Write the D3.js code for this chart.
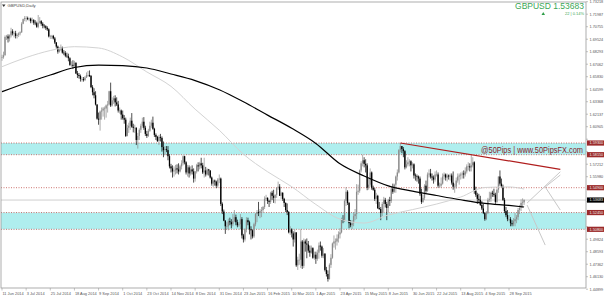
<!DOCTYPE html>
<html>
<head>
<meta charset="utf-8">
<script src="https://cdn.jsdelivr.net/npm/d3@7/dist/d3.min.js"></script>
<style>
  html, body { margin: 0; padding: 0; background: #fff; }
  svg { display: block; font-family: "Liberation Sans", Arial, sans-serif; }
</style>
</head>
<body>
<div id="chart"></div>
<script>
// GBPUSD daily bars, 11 Jun 2014 - 12 Oct 2015 (one row per month)
var firstOpen = 1.6770

var highs = [
  1.6800,1.6830,1.6990,1.6995,1.7000,1.7000,1.7065,1.7050,1.7030,1.7035,1.7010,1.7020,1.7030,1.7120,
  1.7155,1.7180,1.7180,1.7175,1.7165,1.7165,1.7165,1.7150,1.7140,1.7125,1.7191,1.7170,1.7140,1.7120,1.7100,1.7090,1.7080,1.7060,1.6995,1.6995,1.6995,1.6975,1.6925,
  1.6890,1.6875,1.6900,1.6880,1.6845,1.6835,1.6820,1.6810,1.6775,1.6735,1.6745,1.6740,1.6725,1.6640,1.6620,1.6605,1.6580,1.6580,1.6590,1.6625,1.6640,
  1.6645,1.6600,1.6500,1.6470,1.6440,1.6310,1.6230,1.6250,1.6280,1.6285,1.6290,1.6310,1.6345,1.6445,1.6525,1.6380,1.6395,1.6400,1.6380,1.6345,1.6280,1.6260,
  1.6250,1.6205,1.6180,1.6110,1.6130,1.6180,1.6225,1.6120,1.6110,1.6085,1.6030,1.6075,1.6120,1.6180,1.6185,1.6100,1.6050,1.6070,1.6140,1.6160,1.6190,1.6080,1.6025,
  1.6000,1.6010,1.6020,1.5995,1.5945,1.5900,1.5900,1.5900,1.5820,1.5725,1.5710,1.5700,1.5715,1.5720,1.5730,1.5715,1.5760,1.5810,1.5805,1.5750,
  1.5715,1.5710,1.5700,1.5710,1.5680,1.5655,1.5725,1.5740,1.5745,1.5785,1.5735,1.5785,1.5695,1.5680,1.5675,1.5660,1.5600,1.5570,1.5570,1.5560,1.5585,1.5620,
  1.5590,1.5345,1.5275,1.5170,1.5150,1.5185,1.5195,1.5180,1.5230,1.5270,1.5225,1.5175,1.5150,1.5230,1.5200,1.5035,1.5090,1.5200,1.5195,1.5165,1.5110,
  1.5080,1.5145,1.5240,1.5270,1.5350,1.5280,1.5300,1.5310,1.5405,1.5420,1.5395,1.5370,1.5450,1.5460,1.5470,1.5425,1.5490,1.5550,1.5525,1.5450,
  1.5445,1.5390,1.5345,1.5335,1.5260,1.5110,1.5090,1.5060,1.5080,1.5050,1.4810,1.4840,1.5080,1.4975,1.4990,1.4980,1.4990,1.4965,1.4920,1.4920,1.4890,1.4860,
  1.4860,1.4880,1.4950,1.4960,1.4920,1.4895,1.4845,1.4710,1.4675,1.4745,1.4835,1.4950,1.5020,1.4990,1.5030,1.5060,1.5090,1.5195,1.5220,1.5375,1.5495,1.5465,
  1.5350,1.5170,1.5170,1.5250,1.5280,1.5525,1.5520,1.5670,1.5750,1.5815,1.5790,1.5770,1.5730,1.5580,1.5680,1.5650,1.5510,1.5490,1.5440,1.5420,1.5350,
  1.5300,1.5350,1.5400,1.5390,1.5350,1.5380,1.5400,1.5500,1.5530,1.5530,1.5610,1.5670,1.5870,1.5930,1.5900,1.5890,1.5860,1.5760,1.5790,1.5770,1.5760,1.5740,
  1.5730,1.5630,1.5620,1.5610,1.5600,1.5480,1.5420,1.5525,1.5560,1.5640,1.5670,1.5675,1.5630,1.5610,1.5650,1.5660,1.5640,1.5540,1.5590,1.5630,1.5640,1.5630,1.5630,
  1.5620,1.5630,1.5630,1.5650,1.5530,1.5590,1.5630,1.5630,1.5640,1.5650,1.5660,1.5690,1.5720,1.5740,1.5730,1.5820,1.5790,1.5750,1.5500,1.5440,1.5430,
  1.5410,1.5360,1.5330,1.5250,1.5260,1.5390,1.5450,1.5450,1.5460,1.5480,1.5440,1.5480,1.5600,1.5660,1.5580,1.5520,1.5390,1.5300,1.5270,1.5220,1.5200,1.5170,
  1.5190,1.5240,1.5220,1.5290,1.5320,1.5375,1.5385,1.5375
]

var lows = [
  1.6740,1.6760,1.6790,1.6945,1.6920,1.6930,1.6970,1.6990,1.6970,1.6960,1.6960,1.6975,1.6990,1.7015,
  1.7100,1.7130,1.7125,1.7140,1.7130,1.7110,1.7110,1.7095,1.7090,1.7065,1.7060,1.7105,1.7085,1.7060,1.7060,1.7045,1.7035,1.6970,1.6955,1.6955,1.6950,1.6905,1.6860,
  1.6810,1.6820,1.6835,1.6810,1.6795,1.6775,1.6770,1.6735,1.6690,1.6680,1.6660,1.6670,1.6610,1.6570,1.6565,1.6535,1.6535,1.6535,1.6540,1.6570,1.6580,
  1.6580,1.6470,1.6400,1.6370,1.6300,1.6160,1.6110,1.6052,1.6160,1.6190,1.6160,1.6180,1.6230,1.6300,1.6285,1.6290,1.6315,1.6290,1.6295,1.6230,1.6220,1.6160,
  1.6160,1.6120,1.5990,1.5995,1.6030,1.6060,1.6080,1.6035,1.6030,1.5910,1.5875,1.5960,1.6030,1.6080,1.6060,1.6000,1.5980,1.5990,1.6040,1.6080,1.6060,1.5990,1.5960,
  1.5940,1.5910,1.5945,1.5845,1.5790,1.5810,1.5840,1.5760,1.5680,1.5640,1.5590,1.5600,1.5620,1.5630,1.5620,1.5640,1.5670,1.5710,1.5720,1.5620,
  1.5600,1.5590,1.5610,1.5620,1.5540,1.5550,1.5630,1.5650,1.5670,1.5680,1.5625,1.5590,1.5600,1.5610,1.5610,1.5580,1.5510,1.5500,1.5510,1.5485,1.5490,1.5535,
  1.5310,1.5230,1.5160,1.5035,1.5080,1.5070,1.5120,1.5090,1.5110,1.5150,1.5120,1.5100,1.5105,1.5080,1.4990,1.4950,1.4960,1.5050,1.5120,1.5030,1.4980,
  1.4990,1.4995,1.5110,1.5150,1.5210,1.5190,1.5200,1.5240,1.5280,1.5360,1.5330,1.5300,1.5330,1.5370,1.5340,1.5335,1.5390,1.5470,1.5410,1.5380,
  1.5360,1.5300,1.5250,1.5220,1.5040,1.5025,1.5000,1.4910,1.4950,1.4710,1.4680,1.4730,1.4700,1.4690,1.4700,1.4860,1.4795,1.4850,1.4810,1.4840,1.4790,1.4780,
  1.4740,1.4770,1.4790,1.4870,1.4800,1.4795,1.4665,1.4615,1.4565,1.4585,1.4700,1.4790,1.4900,1.4880,1.4920,1.4950,1.4990,1.5040,1.5140,1.5150,1.5310,1.5320,
  1.5090,1.5100,1.5080,1.5110,1.5170,1.5180,1.5420,1.5440,1.5640,1.5700,1.5690,1.5640,1.5465,1.5470,1.5500,1.5470,1.5460,1.5360,1.5330,1.5280,1.5270,
  1.5170,1.5210,1.5250,1.5295,1.5170,1.5250,1.5310,1.5340,1.5430,1.5440,1.5440,1.5560,1.5630,1.5840,1.5830,1.5790,1.5670,1.5680,1.5700,1.5700,1.5650,1.5680,
  1.5580,1.5560,1.5550,1.5530,1.5410,1.5330,1.5340,1.5370,1.5440,1.5450,1.5590,1.5580,1.5560,1.5530,1.5550,1.5600,1.5490,1.5490,1.5490,1.5520,1.5570,1.5560,1.5550,
  1.5570,1.5560,1.5520,1.5470,1.5440,1.5480,1.5540,1.5520,1.5570,1.5580,1.5580,1.5600,1.5630,1.5660,1.5650,1.5650,1.5690,1.5430,1.5400,1.5330,1.5340,
  1.5310,1.5270,1.5230,1.5164,1.5170,1.5230,1.5350,1.5350,1.5400,1.5400,1.5330,1.5340,1.5440,1.5510,1.5490,1.5360,1.5240,1.5200,1.5160,1.5160,1.5110,1.5110,
  1.5110,1.5110,1.5140,1.5170,1.5230,1.5260,1.5290,1.5320
]

var closes = [
  1.6775,1.6795,1.6975,1.6980,1.6960,1.6990,1.7030,1.7010,1.7010,1.6985,1.6995,1.7010,1.7020,1.7105,
  1.7150,1.7160,1.7160,1.7150,1.7155,1.7130,1.7140,1.7115,1.7110,1.7075,1.7115,1.7130,1.7105,1.7085,1.7080,1.7065,1.7050,1.6980,1.6980,1.6985,1.6960,1.6920,1.6880,
  1.6830,1.6850,1.6870,1.6820,1.6815,1.6790,1.6785,1.6765,1.6700,1.6700,1.6690,1.6720,1.6615,1.6600,1.6590,1.6560,1.6560,1.6550,1.6575,1.6600,1.6600,
  1.6590,1.6480,1.6430,1.6400,1.6310,1.6170,1.6160,1.6240,1.6250,1.6270,1.6270,1.6300,1.6310,1.6440,1.6300,1.6350,1.6370,1.6330,1.6310,1.6250,1.6250,1.6210,
  1.6175,1.6160,1.6000,1.6080,1.6100,1.6150,1.6090,1.6080,1.6080,1.5960,1.6000,1.6060,1.6100,1.6140,1.6080,1.6020,1.6000,1.6050,1.6100,1.6130,1.6070,1.6010,1.5990,
  1.5950,1.5990,1.5980,1.5890,1.5860,1.5870,1.5860,1.5800,1.5700,1.5680,1.5650,1.5660,1.5680,1.5670,1.5650,1.5700,1.5730,1.5800,1.5740,1.5640,
  1.5690,1.5630,1.5670,1.5650,1.5580,1.5650,1.5710,1.5700,1.5730,1.5710,1.5640,1.5660,1.5620,1.5670,1.5660,1.5590,1.5530,1.5560,1.5550,1.5510,1.5570,1.5580,
  1.5330,1.5255,1.5165,1.5110,1.5110,1.5160,1.5150,1.5130,1.5160,1.5200,1.5150,1.5120,1.5130,1.5180,1.5020,1.4980,1.5080,1.5170,1.5150,1.5080,1.5070,
  1.5010,1.5130,1.5230,1.5250,1.5240,1.5260,1.5270,1.5300,1.5380,1.5390,1.5360,1.5350,1.5440,1.5410,1.5390,1.5420,1.5490,1.5500,1.5410,1.5440,
  1.5380,1.5340,1.5270,1.5250,1.5050,1.5080,1.5040,1.4980,1.5050,1.4725,1.4780,1.4780,1.4960,1.4720,1.4960,1.4940,1.4930,1.4870,1.4850,1.4900,1.4800,1.4830,
  1.4790,1.4850,1.4920,1.4910,1.4820,1.4840,1.4680,1.4640,1.4590,1.4730,1.4800,1.4940,1.4960,1.4960,1.4990,1.5030,1.5050,1.5180,1.5170,1.5360,1.5450,1.5340,
  1.5140,1.5120,1.5140,1.5210,1.5230,1.5450,1.5460,1.5660,1.5730,1.5760,1.5725,1.5710,1.5490,1.5520,1.5640,1.5490,1.5470,1.5380,1.5410,1.5290,1.5280,
  1.5240,1.5330,1.5370,1.5330,1.5290,1.5370,1.5360,1.5480,1.5450,1.5520,1.5600,1.5640,1.5860,1.5900,1.5870,1.5850,1.5690,1.5720,1.5740,1.5750,1.5710,1.5720,
  1.5610,1.5605,1.5600,1.5580,1.5430,1.5350,1.5390,1.5510,1.5460,1.5620,1.5630,1.5600,1.5590,1.5570,1.5620,1.5620,1.5510,1.5510,1.5530,1.5600,1.5620,1.5590,1.5610,
  1.5600,1.5610,1.5540,1.5500,1.5500,1.5560,1.5600,1.5610,1.5620,1.5630,1.5620,1.5650,1.5700,1.5700,1.5690,1.5710,1.5740,1.5460,1.5420,1.5380,1.5370,
  1.5320,1.5285,1.5240,1.5180,1.5240,1.5370,1.5380,1.5440,1.5430,1.5420,1.5350,1.5470,1.5600,1.5530,1.5500,1.5370,1.5260,1.5220,1.5180,1.5180,1.5140,1.5130,
  1.5160,1.5180,1.5200,1.5270,1.5290,1.5340,1.5346,1.53683
]

// moving averages at every 16th bar (+ last bar)
var maBars = [0, 16, 32, 48, 64, 80, 96, 112, 128, 144, 160, 176, 192, 208, 224, 240, 256, 272, 288, 304, 320, 336, 346]
var sma200 = [1.6435, 1.6521, 1.6600, 1.6674, 1.6698, 1.6693, 1.6669, 1.6610, 1.6545, 1.6455, 1.6336, 1.6205, 1.6075, 1.5926, 1.5725, 1.5605, 1.5508, 1.5457, 1.5413, 1.5371, 1.5335, 1.5315, 1.5300]
var sma100 = [1.6682, 1.6772, 1.6841, 1.6879, 1.6866, 1.6777, 1.6630, 1.6488, 1.6263, 1.6056, 1.5820, 1.5647, 1.5500, 1.5325, 1.5181, 1.5142, 1.5221, 1.5274, 1.5329, 1.5398, 1.5492, 1.5497, 1.5477]

// horizontal levels and zones
var zones = [[1.5815, 1.5930], [1.5080, 1.5245]]
var levels = [1.5930, 1.5815, 1.5490, 1.5245, 1.5080]
var lastPrice = 1.53683

// drawn objects: [bar, price]
var trendLine = [[264, 1.5930], [370, 1.5671]]
var projections = [
  [[348, 1.5339], [370, 1.5647]],
  [[370, 1.5615], [360, 1.5497], [370, 1.5270]],
  [[348, 1.5319], [360, 1.4925]]
]

var xLabels = ["11 Jun 2014", "3 Jul 2014", "25 Jul 2014", "18 Aug 2014", "9 Sep 2014", "1 Oct 2014",
  "23 Oct 2014", "14 Nov 2014", "8 Dec 2014", "31 Dec 2014", "23 Jan 2015", "16 Feb 2015", "10 Mar 2015",
  "1 Apr 2015", "23 Apr 2015", "15 May 2015", "8 Jun 2015", "30 Jun 2015", "22 Jul 2015", "13 Aug 2015",
  "4 Sep 2015", "28 Sep 2015"]
var yTicks = [1.73218, 1.71987, 1.70755, 1.69524, 1.68293, 1.67062, 1.65830, 1.64599, 1.63368, 1.62137,
  1.60905, 1.59674, 1.58443, 1.57212, 1.55980, 1.54749, 1.53518, 1.52287, 1.51055, 1.49824, 1.48593,
  1.47362, 1.46130, 1.44899]

/*
 * PriceChart - candlestick chart in a trading terminal style
 */
PriceChart = function (_parentElement) {
  this.parentElement = _parentElement
  this.initVis()
}

PriceChart.prototype.initVis = function () {
  var vis = this

  vis.W = 604
  vis.H = 297
  vis.plot = { left: 1, top: 2, right: 586, bottom: 288 }

  vis.svg = d3
    .select("#" + vis.parentElement)
    .append("svg")
    .attr("width", vis.W)
    .attr("height", vis.H)

  vis.svg.append("rect").attr("width", vis.W).attr("height", vis.H).attr("fill", "#fff")

  vis.x = d3.scaleLinear().domain([0, 336]).range([2, 509])
  vis.y = d3.scaleLinear().domain([1.4502, 1.7319]).range([288, 2])

  vis.wrangleData()
}

PriceChart.prototype.wrangleData = function () {
  var vis = this

  vis.bars = closes.map(function (c, i) {
    return { i: i, o: i === 0 ? firstOpen : closes[i - 1], h: highs[i], l: lows[i], c: c }
  })

  // tags on the price axis hide the grid labels they sit on
  vis.tags = levels.map((d) => ({ v: d, fill: "#9c2b2b" })).concat([{ v: lastPrice, fill: "#000" }])
  vis.freeTicks = yTicks.filter(function (t) {
    return vis.tags.every((g) => Math.abs(vis.y(g.v) - vis.y(t)) > 4.5)
  })

  vis.updateVis()
}

PriceChart.prototype.updateVis = function () {
  var vis = this
  var p = vis.plot
  var fmt = d3.format(".5f")

  // zones (background)
  vis.svg
    .selectAll(".zone")
    .data(zones)
    .enter()
    .append("rect")
    .attr("class", "zone")
    .attr("x", p.left)
    .attr("width", p.right - p.left)
    .attr("y", (d) => vis.y(d[1]))
    .attr("height", (d) => vis.y(d[0]) - vis.y(d[1]))
    .attr("fill", "#afeeee")

  // current price line
  vis.svg
    .append("line")
    .attr("x1", p.left)
    .attr("x2", p.right)
    .attr("y1", vis.y(lastPrice))
    .attr("y2", vis.y(lastPrice))
    .attr("stroke", "#cfcfcf")
    .attr("stroke-width", 1)

  // level lines
  vis.svg
    .selectAll(".level")
    .data(levels)
    .enter()
    .append("line")
    .attr("class", "level")
    .attr("x1", p.left)
    .attr("x2", p.right)
    .attr("y1", (d) => vis.y(d))
    .attr("y2", (d) => vis.y(d))
    .attr("stroke", "#c0504d")
    .attr("stroke-width", 0.8)
    .attr("stroke-dasharray", "1,1.5")

  // candles
  var candle = vis.svg
    .selectAll(".bar")
    .data(vis.bars)
    .enter()
    .append("g")
    .attr("class", "bar")

  candle
    .append("line")
    .attr("x1", (d) => vis.x(d.i))
    .attr("x2", (d) => vis.x(d.i))
    .attr("y1", (d) => vis.y(d.h))
    .attr("y2", (d) => vis.y(d.l))
    .attr("stroke", (d) => (d.c >= d.o ? "#8a8a8a" : "#000"))
    .attr("stroke-width", 0.7)

  candle
    .append("rect")
    .attr("x", (d) => vis.x(d.i) - 0.65)
    .attr("width", 1.3)
    .attr("y", (d) => vis.y(Math.max(d.o, d.c)))
    .attr("height", (d) => Math.max(0.6, Math.abs(vis.y(d.o) - vis.y(d.c))))
    .attr("fill", (d) => (d.c >= d.o ? "#8a8a8a" : "#000"))

  // moving averages
  var maLine = d3
    .line()
    .x((d) => vis.x(d[0]))
    .y((d) => vis.y(d[1]))
    .curve(d3.curveMonotoneX)

  vis.svg
    .append("path")
    .attr("d", maLine(maBars.map((b, k) => [b, sma100[k]])))
    .attr("fill", "none")
    .attr("stroke", "#d3d3d3")
    .attr("stroke-width", 1)

  vis.svg
    .append("path")
    .attr("d", maLine(maBars.map((b, k) => [b, sma200[k]])))
    .attr("fill", "none")
    .attr("stroke", "#000")
    .attr("stroke-width", 1.2)

  // trend line + projections
  var plain = d3
    .line()
    .x((d) => vis.x(d[0]))
    .y((d) => vis.y(d[1]))

  vis.svg
    .append("path")
    .attr("d", plain(trendLine))
    .attr("fill", "none")
    .attr("stroke", "#b01e1e")
    .attr("stroke-width", 1.2)

  vis.svg
    .selectAll(".proj")
    .data(projections)
    .enter()
    .append("path")
    .attr("class", "proj")
    .attr("d", plain)
    .attr("fill", "none")
    .attr("stroke", "#c8c8c8")
    .attr("stroke-width", 1)

  // watermark
  vis.svg
    .append("text")
    .attr("x", 481)
    .attr("y", 152.5)
    .attr("font-size", 9)
    .attr("textLength", 102)
    .attr("lengthAdjust", "spacingAndGlyphs")
    .attr("fill", "#8b1c2c")
    .text("@50Pips | www.50PipsFX.com")

  // frame
  vis.svg
    .append("rect")
    .attr("x", p.left)
    .attr("y", p.top)
    .attr("width", p.right - p.left)
    .attr("height", p.bottom - p.top)
    .attr("fill", "none")
    .attr("stroke", "#9a9a9a")
    .attr("stroke-width", 0.8)

  // price axis
  var yAxis = vis.svg.append("g").attr("class", "y-axis")
  yTicks.forEach(function (t) {
    var yy = vis.y(t)
    yAxis.append("line").attr("x1", p.right).attr("x2", p.right + 2).attr("y1", yy).attr("y2", yy).attr("stroke", "#9a9a9a").attr("stroke-width", 0.6)
  })
  yAxis
    .selectAll(".tick-label")
    .data(vis.freeTicks)
    .enter()
    .append("text")
    .attr("class", "tick-label")
    .attr("x", p.right + 3.5)
    .attr("y", (d) => vis.y(d) + 1.3)
    .attr("font-size", 3.8)
    .attr("fill", "#555")
    .text(fmt)

  // level tags
  var tag = vis.svg.selectAll(".tag").data(vis.tags).enter().append("g").attr("class", "tag")
  tag
    .append("rect")
    .attr("x", p.right + 1)
    .attr("y", (d) => vis.y(d.v) - 2.6)
    .attr("width", 17)
    .attr("height", 5.2)
    .attr("fill", (d) => d.fill)
  tag
    .append("text")
    .attr("x", p.right + 3.5)
    .attr("y", (d) => vis.y(d.v) + 1.3)
    .attr("font-size", 3.8)
    .attr("fill", "#eee")
    .text((d) => fmt(d.v))

  // time axis
  var xAxis = vis.svg.append("g").attr("class", "x-axis")
  xLabels.forEach(function (lab, k) {
    var xx = vis.x(k * 16)
    xAxis.append("line").attr("x1", xx).attr("x2", xx).attr("y1", p.bottom).attr("y2", p.bottom + 2.5).attr("stroke", "#9a9a9a").attr("stroke-width", 0.6)
    xAxis.append("text").attr("x", xx + 0.5).attr("y", 295).attr("font-size", 3.9).attr("fill", "#555").text(lab)
  })

  // header texts
  vis.svg.append("path").attr("d", "M2,4.5 L5.5,4.5 L3.75,7 Z").attr("fill", "#333")
  vis.svg.append("text").attr("x", 7.5).attr("y", 7.3).attr("font-size", 4.2).attr("fill", "#444").text("GBPUSD,Daily")

  vis.svg
    .append("text")
    .attr("x", 584)
    .attr("y", 9)
    .attr("text-anchor", "end")
    .attr("font-size", 8.5)
    .attr("fill", "#3aa655")
    .text("GBPUSD  1.53683")
  vis.svg.append("path").attr("d", "M541.5,15 L545,15 L543.25,12 Z").attr("fill", "#2e9e48")
  vis.svg
    .append("text")
    .attr("x", 584)
    .attr("y", 15)
    .attr("text-anchor", "end")
    .attr("font-size", 4)
    .attr("fill", "#3aa655")
    .text("22 | 0.14%")
}

new PriceChart("chart")
</script>
</body>
</html>
